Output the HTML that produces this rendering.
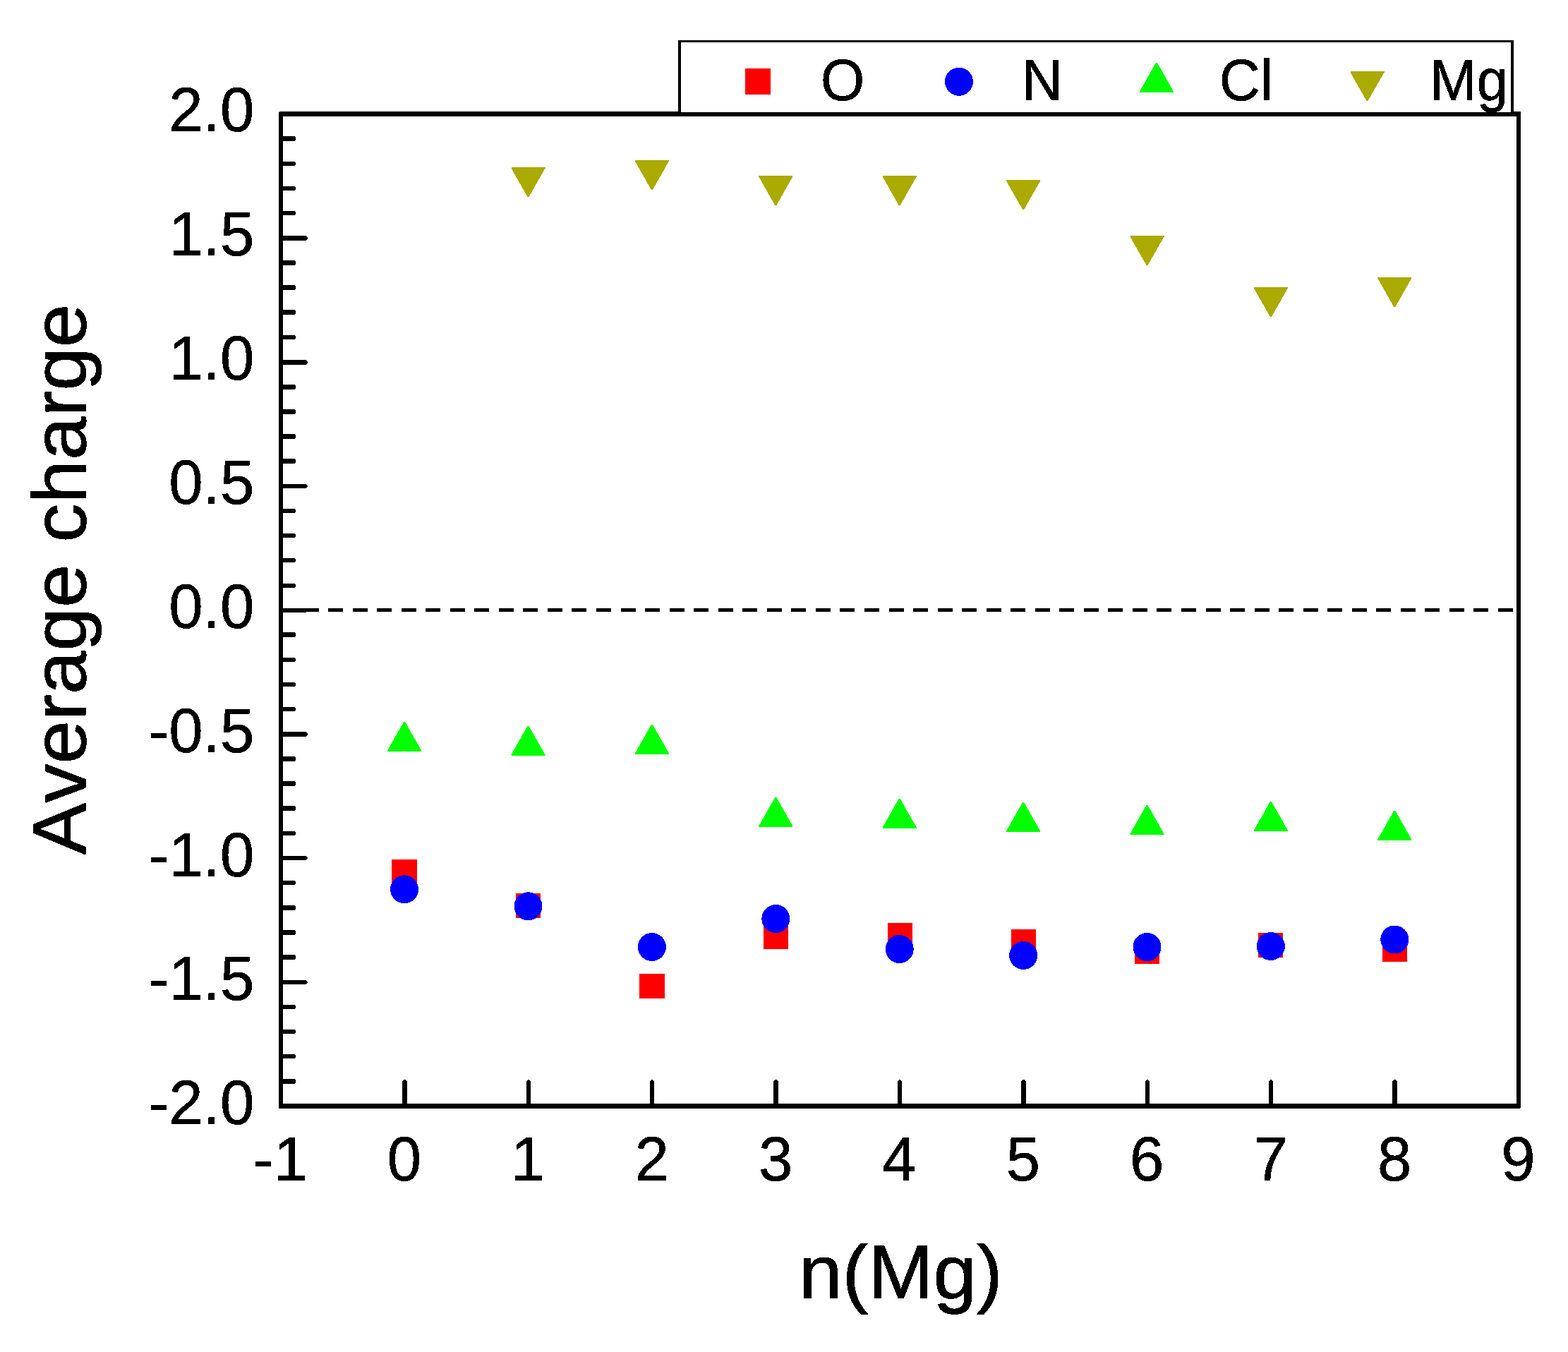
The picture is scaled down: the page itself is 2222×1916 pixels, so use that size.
<!DOCTYPE html>
<html lang="en"><head><meta charset="utf-8"><title>Average charge vs n(Mg)</title>
<style>
html,body{margin:0;padding:0;background:#fff;}
body{width:2222px;height:1916px;overflow:hidden;}
svg{display:block;}
text{font-family:"Liberation Sans",sans-serif;fill:#000;font-kerning:none;text-rendering:geometricPrecision;}
.tk{font-size:87px;stroke:#000;stroke-width:0.5px;}
.ti{font-size:110.6px;stroke:#000;stroke-width:1px;}
.lg{font-size:80px;stroke:#000;stroke-width:0.6px;}
</style></head><body>
<svg width="2222" height="1916" viewBox="0 0 2222 1916">
<rect x="0" y="0" width="2222" height="1916" fill="#fff"/>
<g shape-rendering="crispEdges" fill="#000">
<rect x="395" y="158" width="1760" height="7"/>
<rect x="395" y="1564" width="1760" height="7"/>
<rect x="395" y="158" width="6" height="1413"/>
<rect x="2149" y="158" width="6" height="1413"/>
<rect x="395" y="158" width="1" height="1" fill="#fff"/>
<rect x="2154" y="1570" width="1" height="1" fill="#fff"/>
<rect x="395" y="193" width="23" height="7"/>
<rect x="418" y="194" width="1" height="5"/>
<rect x="395" y="229" width="23" height="6"/>
<rect x="418" y="230" width="1" height="4"/>
<rect x="395" y="264" width="23" height="6"/>
<rect x="418" y="265" width="1" height="4"/>
<rect x="395" y="299" width="23" height="6"/>
<rect x="418" y="300" width="1" height="4"/>
<rect x="395" y="334" width="39" height="7"/>
<rect x="434" y="335" width="1" height="5"/>
<rect x="435" y="336" width="1" height="3"/>
<rect x="395" y="369" width="23" height="7"/>
<rect x="418" y="370" width="1" height="5"/>
<rect x="395" y="404" width="23" height="7"/>
<rect x="418" y="405" width="1" height="5"/>
<rect x="395" y="439" width="23" height="7"/>
<rect x="418" y="440" width="1" height="5"/>
<rect x="395" y="475" width="23" height="6"/>
<rect x="418" y="476" width="1" height="4"/>
<rect x="395" y="510" width="39" height="7"/>
<rect x="434" y="511" width="1" height="5"/>
<rect x="435" y="512" width="1" height="3"/>
<rect x="395" y="545" width="23" height="7"/>
<rect x="418" y="546" width="1" height="5"/>
<rect x="395" y="580" width="23" height="7"/>
<rect x="418" y="581" width="1" height="5"/>
<rect x="395" y="615" width="23" height="7"/>
<rect x="418" y="616" width="1" height="5"/>
<rect x="395" y="650" width="23" height="7"/>
<rect x="418" y="651" width="1" height="5"/>
<rect x="395" y="686" width="39" height="6"/>
<rect x="434" y="687" width="1" height="4"/>
<rect x="435" y="688" width="1" height="2"/>
<rect x="395" y="721" width="23" height="6"/>
<rect x="418" y="722" width="1" height="4"/>
<rect x="395" y="756" width="23" height="6"/>
<rect x="418" y="757" width="1" height="4"/>
<rect x="395" y="791" width="23" height="6"/>
<rect x="418" y="792" width="1" height="4"/>
<rect x="395" y="827" width="23" height="6"/>
<rect x="418" y="828" width="1" height="4"/>
<rect x="395" y="862" width="39" height="6"/>
<rect x="434" y="863" width="1" height="4"/>
<rect x="435" y="864" width="1" height="2"/>
<rect x="395" y="896" width="23" height="7"/>
<rect x="418" y="897" width="1" height="5"/>
<rect x="395" y="932" width="23" height="6"/>
<rect x="418" y="933" width="1" height="4"/>
<rect x="395" y="967" width="23" height="6"/>
<rect x="418" y="968" width="1" height="4"/>
<rect x="395" y="1002" width="23" height="6"/>
<rect x="418" y="1003" width="1" height="4"/>
<rect x="395" y="1037" width="39" height="7"/>
<rect x="434" y="1038" width="1" height="5"/>
<rect x="435" y="1039" width="1" height="3"/>
<rect x="395" y="1072" width="23" height="7"/>
<rect x="418" y="1073" width="1" height="5"/>
<rect x="395" y="1107" width="23" height="7"/>
<rect x="418" y="1108" width="1" height="5"/>
<rect x="395" y="1142" width="23" height="7"/>
<rect x="418" y="1143" width="1" height="5"/>
<rect x="395" y="1178" width="23" height="6"/>
<rect x="418" y="1179" width="1" height="4"/>
<rect x="395" y="1213" width="39" height="6"/>
<rect x="434" y="1214" width="1" height="4"/>
<rect x="435" y="1215" width="1" height="2"/>
<rect x="395" y="1248" width="23" height="6"/>
<rect x="418" y="1249" width="1" height="4"/>
<rect x="395" y="1283" width="23" height="7"/>
<rect x="418" y="1284" width="1" height="5"/>
<rect x="395" y="1318" width="23" height="7"/>
<rect x="418" y="1319" width="1" height="5"/>
<rect x="395" y="1353" width="23" height="7"/>
<rect x="418" y="1354" width="1" height="5"/>
<rect x="395" y="1389" width="39" height="6"/>
<rect x="434" y="1390" width="1" height="4"/>
<rect x="435" y="1391" width="1" height="2"/>
<rect x="395" y="1424" width="23" height="6"/>
<rect x="418" y="1425" width="1" height="4"/>
<rect x="395" y="1459" width="23" height="6"/>
<rect x="418" y="1460" width="1" height="4"/>
<rect x="395" y="1494" width="23" height="6"/>
<rect x="418" y="1495" width="1" height="4"/>
<rect x="395" y="1529" width="23" height="7"/>
<rect x="418" y="1530" width="1" height="5"/>
<rect x="570" y="1532" width="7" height="39"/>
<rect x="571" y="1531" width="5" height="1"/>
<rect x="572" y="1530" width="3" height="1"/>
<rect x="746" y="1532" width="6" height="39"/>
<rect x="747" y="1531" width="4" height="1"/>
<rect x="748" y="1530" width="2" height="1"/>
<rect x="921" y="1532" width="6" height="39"/>
<rect x="922" y="1531" width="4" height="1"/>
<rect x="923" y="1530" width="2" height="1"/>
<rect x="1096" y="1532" width="7" height="39"/>
<rect x="1097" y="1531" width="5" height="1"/>
<rect x="1098" y="1530" width="3" height="1"/>
<rect x="1272" y="1532" width="6" height="39"/>
<rect x="1273" y="1531" width="4" height="1"/>
<rect x="1274" y="1530" width="2" height="1"/>
<rect x="1447" y="1532" width="7" height="39"/>
<rect x="1448" y="1531" width="5" height="1"/>
<rect x="1449" y="1530" width="3" height="1"/>
<rect x="1623" y="1532" width="6" height="39"/>
<rect x="1624" y="1531" width="4" height="1"/>
<rect x="1625" y="1530" width="2" height="1"/>
<rect x="1798" y="1532" width="6" height="39"/>
<rect x="1799" y="1531" width="4" height="1"/>
<rect x="1800" y="1530" width="2" height="1"/>
<rect x="1973" y="1532" width="7" height="39"/>
<rect x="1974" y="1531" width="5" height="1"/>
<rect x="1975" y="1530" width="3" height="1"/>
<rect x="396" y="862" width="21" height="5"/>
<rect x="431" y="862" width="21" height="5"/>
<rect x="465" y="862" width="21" height="5"/>
<rect x="500" y="862" width="21" height="5"/>
<rect x="534" y="862" width="21" height="5"/>
<rect x="569" y="862" width="21" height="5"/>
<rect x="603" y="862" width="21" height="5"/>
<rect x="638" y="862" width="21" height="5"/>
<rect x="672" y="862" width="21" height="5"/>
<rect x="707" y="862" width="21" height="5"/>
<rect x="741" y="862" width="21" height="5"/>
<rect x="776" y="862" width="21" height="5"/>
<rect x="810" y="862" width="21" height="5"/>
<rect x="845" y="862" width="21" height="5"/>
<rect x="880" y="862" width="21" height="5"/>
<rect x="914" y="862" width="21" height="5"/>
<rect x="949" y="862" width="21" height="5"/>
<rect x="983" y="862" width="21" height="5"/>
<rect x="1018" y="862" width="21" height="5"/>
<rect x="1052" y="862" width="21" height="5"/>
<rect x="1087" y="862" width="21" height="5"/>
<rect x="1121" y="862" width="21" height="5"/>
<rect x="1156" y="862" width="21" height="5"/>
<rect x="1190" y="862" width="21" height="5"/>
<rect x="1225" y="862" width="21" height="5"/>
<rect x="1260" y="862" width="21" height="5"/>
<rect x="1294" y="862" width="21" height="5"/>
<rect x="1329" y="862" width="21" height="5"/>
<rect x="1363" y="862" width="21" height="5"/>
<rect x="1398" y="862" width="21" height="5"/>
<rect x="1432" y="862" width="21" height="5"/>
<rect x="1467" y="862" width="21" height="5"/>
<rect x="1501" y="862" width="21" height="5"/>
<rect x="1536" y="862" width="21" height="5"/>
<rect x="1570" y="862" width="21" height="5"/>
<rect x="1605" y="862" width="21" height="5"/>
<rect x="1639" y="862" width="21" height="5"/>
<rect x="1674" y="862" width="21" height="5"/>
<rect x="1709" y="862" width="21" height="5"/>
<rect x="1743" y="862" width="21" height="5"/>
<rect x="1778" y="862" width="21" height="5"/>
<rect x="1812" y="862" width="21" height="5"/>
<rect x="1847" y="862" width="21" height="5"/>
<rect x="1881" y="862" width="21" height="5"/>
<rect x="1916" y="862" width="21" height="5"/>
<rect x="1950" y="862" width="21" height="5"/>
<rect x="1985" y="862" width="21" height="5"/>
<rect x="2019" y="862" width="21" height="5"/>
<rect x="2054" y="862" width="21" height="5"/>
<rect x="2088" y="862" width="21" height="5"/>
<rect x="2123" y="862" width="21" height="5"/>
</g>
<g shape-rendering="crispEdges">
<rect x="961" y="57" width="1184" height="102" fill="#fff"/>
<rect x="961" y="57" width="1184" height="3" fill="#000"/>
<rect x="961" y="57" width="4" height="104" fill="#000"/>
<rect x="2141" y="57" width="4" height="104" fill="#000"/>
</g>
<g shape-rendering="crispEdges">
<rect x="555" y="1218" width="36" height="35" fill="#ff0000"/>
<rect x="731" y="1266" width="35" height="35" fill="#ff0000"/>
<rect x="906" y="1380" width="36" height="35" fill="#ff0000"/>
<rect x="1082" y="1310" width="35" height="35" fill="#ff0000"/>
<rect x="1258" y="1308" width="35" height="35" fill="#ff0000"/>
<rect x="1433" y="1317" width="35" height="35" fill="#ff0000"/>
<rect x="1608" y="1331" width="35" height="35" fill="#ff0000"/>
<rect x="1783" y="1322" width="35" height="35" fill="#ff0000"/>
<rect x="1959" y="1328" width="35" height="35" fill="#ff0000"/>
<circle cx="573.1" cy="1260.3" r="20.0" fill="#0000ff"/>
<circle cx="748.5" cy="1284.3" r="20.0" fill="#0000ff"/>
<circle cx="923.9" cy="1342.0" r="20.0" fill="#0000ff"/>
<circle cx="1099.3" cy="1302.0" r="20.0" fill="#0000ff"/>
<circle cx="1274.7" cy="1345.0" r="20.0" fill="#0000ff"/>
<circle cx="1450.1" cy="1354.0" r="20.0" fill="#0000ff"/>
<circle cx="1625.5" cy="1342.0" r="20.0" fill="#0000ff"/>
<circle cx="1800.9" cy="1341.0" r="20.0" fill="#0000ff"/>
<circle cx="1976.3" cy="1331.5" r="20.0" fill="#0000ff"/>
<polygon points="572.1,1023.0 574.1,1023.0 597.1,1063.5 597.1,1065.0 549.1,1065.0 549.1,1063.5" fill="#00ff00"/>
<polygon points="747.5,1029.0 749.5,1029.0 772.5,1069.5 772.5,1071.0 724.5,1071.0 724.5,1069.5" fill="#00ff00"/>
<polygon points="922.9,1027.0 924.9,1027.0 947.9,1067.5 947.9,1069.0 899.9,1069.0 899.9,1067.5" fill="#00ff00"/>
<polygon points="1098.3,1130.0 1100.3,1130.0 1123.3,1170.5 1123.3,1172.0 1075.3,1172.0 1075.3,1170.5" fill="#00ff00"/>
<polygon points="1273.7,1132.0 1275.7,1132.0 1298.7,1172.5 1298.7,1174.0 1250.7,1174.0 1250.7,1172.5" fill="#00ff00"/>
<polygon points="1449.1,1137.0 1451.1,1137.0 1474.1,1177.5 1474.1,1179.0 1426.1,1179.0 1426.1,1177.5" fill="#00ff00"/>
<polygon points="1624.5,1141.0 1626.5,1141.0 1649.5,1181.5 1649.5,1183.0 1601.5,1183.0 1601.5,1181.5" fill="#00ff00"/>
<polygon points="1799.9,1136.0 1801.9,1136.0 1824.9,1176.5 1824.9,1178.0 1776.9,1178.0 1776.9,1176.5" fill="#00ff00"/>
<polygon points="1975.3,1149.0 1977.3,1149.0 2000.3,1189.5 2000.3,1191.0 1952.3,1191.0 1952.3,1189.5" fill="#00ff00"/>
<polygon points="724.5,237.0 772.5,237.0 772.5,238.5 749.5,279.0 747.5,279.0 724.5,238.5" fill="#aaaa00"/>
<polygon points="899.9,227.0 947.9,227.0 947.9,228.5 924.9,269.0 922.9,269.0 899.9,228.5" fill="#aaaa00"/>
<polygon points="1075.3,249.0 1123.3,249.0 1123.3,250.5 1100.3,291.0 1098.3,291.0 1075.3,250.5" fill="#aaaa00"/>
<polygon points="1250.7,249.0 1298.7,249.0 1298.7,250.5 1275.7,291.0 1273.7,291.0 1250.7,250.5" fill="#aaaa00"/>
<polygon points="1426.1,255.0 1474.1,255.0 1474.1,256.5 1451.1,297.0 1449.1,297.0 1426.1,256.5" fill="#aaaa00"/>
<polygon points="1601.5,334.0 1649.5,334.0 1649.5,335.5 1626.5,376.0 1624.5,376.0 1601.5,335.5" fill="#aaaa00"/>
<polygon points="1776.9,407.0 1824.9,407.0 1824.9,408.5 1801.9,449.0 1799.9,449.0 1776.9,408.5" fill="#aaaa00"/>
<polygon points="1952.3,393.0 2000.3,393.0 2000.3,394.5 1977.3,435.0 1975.3,435.0 1952.3,394.5" fill="#aaaa00"/>
<rect x="1056" y="97" width="36" height="37" fill="#ff0000"/>
<circle cx="1359.0" cy="115.8" r="20.0" fill="#0000ff"/>
<polygon points="1638.0,89.0 1640.0,89.0 1663.0,129.5 1663.0,131.0 1615.0,131.0 1615.0,129.5" fill="#00ff00"/>
<polygon points="1913.5,101.0 1961.5,101.0 1961.5,102.5 1938.5,143.0 1936.5,143.0 1913.5,102.5" fill="#aaaa00"/>
</g>
<defs><filter id="al" filterUnits="userSpaceOnUse" x="0" y="0" width="2222" height="1916" color-interpolation-filters="sRGB"><feComponentTransfer><feFuncA type="discrete" tableValues="0 1"/></feComponentTransfer></filter></defs>
<g filter="url(#al)">
<text class="lg" transform="translate(1163.0,142.0) scale(1,1.0360)">O</text>
<text class="lg" transform="translate(1448.0,142.0) scale(1,1.0360)">N</text>
<text class="lg" transform="translate(1728.0,142.0) scale(1,1.0360)">Cl</text>
<text class="lg" transform="translate(2026.0,142.0) scale(1,1.0360)">Mg</text>
<text class="tk" text-anchor="end" transform="translate(360.3,186.0) scale(1,1.0200)">2.0</text>
<text class="tk" text-anchor="end" transform="translate(360.3,362.2) scale(1,1.0200)">1.5</text>
<text class="tk" text-anchor="end" transform="translate(360.3,538.0) scale(1,1.0200)">1.0</text>
<text class="tk" text-anchor="end" transform="translate(360.3,714.2) scale(1,1.0200)">0.5</text>
<text class="tk" text-anchor="end" transform="translate(360.3,890.0) scale(1,1.0200)">0.0</text>
<text class="tk" text-anchor="end" transform="translate(360.3,1065.8) scale(1,1.0200)">-0.5</text>
<text class="tk" text-anchor="end" transform="translate(360.3,1241.5) scale(1,1.0200)">-1.0</text>
<text class="tk" text-anchor="end" transform="translate(360.3,1417.2) scale(1,1.0200)">-1.5</text>
<text class="tk" text-anchor="end" transform="translate(360.3,1593.0) scale(1,1.0200)">-2.0</text>
<text class="tk" text-anchor="middle" transform="translate(397.5,1673.0) scale(1,1.0200)">-1</text>
<text class="tk" text-anchor="middle" transform="translate(572.9,1673.0) scale(1,1.0200)">0</text>
<text class="tk" text-anchor="middle" transform="translate(748.3,1673.0) scale(1,1.0200)">1</text>
<text class="tk" text-anchor="middle" transform="translate(923.7,1673.0) scale(1,1.0200)">2</text>
<text class="tk" text-anchor="middle" transform="translate(1099.1,1673.0) scale(1,1.0200)">3</text>
<text class="tk" text-anchor="middle" transform="translate(1274.5,1673.0) scale(1,1.0200)">4</text>
<text class="tk" text-anchor="middle" transform="translate(1449.9,1673.0) scale(1,1.0200)">5</text>
<text class="tk" text-anchor="middle" transform="translate(1625.3,1673.0) scale(1,1.0200)">6</text>
<text class="tk" text-anchor="middle" transform="translate(1800.7,1673.0) scale(1,1.0200)">7</text>
<text class="tk" text-anchor="middle" transform="translate(1976.1,1673.0) scale(1,1.0200)">8</text>
<text class="tk" text-anchor="middle" transform="translate(2151.5,1673.0) scale(1,1.0200)">9</text>
<text class="ti" text-anchor="middle" transform="translate(1276.5,1840.0) scale(1,0.9750)">n(Mg)</text>
<text class="ti" transform="translate(121.0,1211.5) rotate(-90) scale(1,0.9750)">Average charge</text>
</g>
</svg></body></html>
